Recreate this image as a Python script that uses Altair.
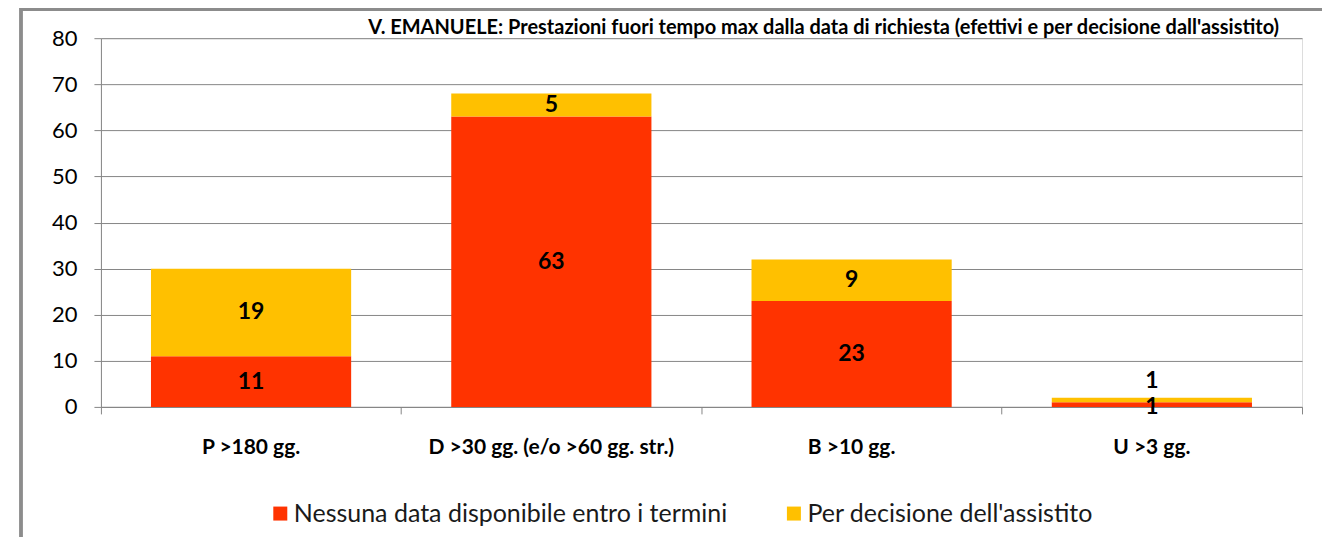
import altair as alt
import pandas as pd

categories = ["P >180 gg.", "D >30 gg. (e/o >60 gg. str.)", "B >10 gg.", "U >3 gg."]
series = ["Nessuna data disponibile entro i termini", "Per decisione dell'assistito"]
nessuna = [11, 63, 23, 1]
decisione = [19, 5, 9, 1]
colors = ["#FF3300", "#FFC000"]
title_text = "V. EMANUELE: Prestazioni fuori tempo max dalla data di richiesta (efettivi e per decisione dall'assistito)"

rows = []
for i, c in enumerate(categories):
    rows.append({"cat": c, "serie": series[0], "ord": 0, "value": nessuna[i]})
    rows.append({"cat": c, "serie": series[1], "ord": 1, "value": decisione[i]})
df = pd.DataFrame(rows)

FONT = "Lato"

x_enc = alt.X("cat:N", sort=categories, title=None,
              scale=alt.Scale(paddingInner=0, paddingOuter=0),
              axis=alt.Axis(bandPosition=1, tickExtra=True, labelAngle=0,
                            labelFontWeight="bold", labelFontSize=21, labelFont=FONT,
                            labelColor="black", labelPadding=40, tickSize=7,
                            tickColor="#868686", domainColor="#868686", grid=False,
                            labelBaseline="alphabetic", labelLimit=500))

bars = alt.Chart(df).mark_bar(width={"band": 2 / 3}).encode(
    x=x_enc,
    y=alt.Y("value:Q", stack="zero", title=None,
            scale=alt.Scale(domain=[0, 80], nice=False),
            axis=alt.Axis(values=list(range(0, 81, 10)), labelFontSize=22, labelFont=FONT,
                          labelColor="black", labelPadding=17, tickSize=7,
                          tickColor="#868686", domainColor="#868686",
                          gridColor="#868686", gridWidth=1)),
    color=alt.Color("serie:N", sort=series,
                    scale=alt.Scale(domain=series, range=colors),
                    legend=alt.Legend(title=None, orient="none", direction="horizontal",
                                      legendX=167, legendY=463, symbolType="square",
                                      symbolSize=196, symbolStrokeWidth=0,
                                      labelFontSize=25, labelFont=FONT, labelColor="#1a1a1a",
                                      labelOffset=1, columnPadding=54, padding=0,
                                      labelLimit=700)),
    order=alt.Order("ord:Q"),
)

labels = alt.Chart(df).transform_stack(
    stack="value", groupby=["cat"], as_=["y0", "y1"], sort=[alt.SortField("ord")]
).transform_calculate(
    ypos="(datum.ord == 1 && datum.value < 2) ? datum.y1 + 3.6 : (datum.ord == 0 && datum.value < 2) ? datum.y0 : (datum.y0 + datum.y1) / 2"
).mark_text(fontSize=23, fontWeight="bold", font=FONT, color="black", baseline="middle").encode(
    x=alt.X("cat:N", sort=categories),
    y=alt.Y("ypos:Q"),
    text=alt.Text("value:Q"),
)

frame = alt.Chart(df).mark_rect(fill=None, stroke="#8c8c8c", strokeWidth=2.5).encode(
    x=alt.value(-80), x2=alt.value(1260), y=alt.value(-29), y2=alt.value(540)
)

title = alt.Chart(pd.DataFrame({"t": [title_text]})).mark_text(
    align="right", baseline="alphabetic", fontSize=20, font=FONT, fontWeight="bold", color="black"
).encode(x=alt.value(1179), y=alt.value(-4), text="t:N")

chart = alt.layer(frame, bars, labels, title).properties(
    width=1202, height=369,
    padding={"left": 93, "top": 30, "right": 20, "bottom": 130},
    autosize=alt.AutoSizeParams(type="none"),
).configure_view(stroke=None).configure(background="white")

chart.save("out.html", embed_options={"renderer": "svg", "actions": False})
